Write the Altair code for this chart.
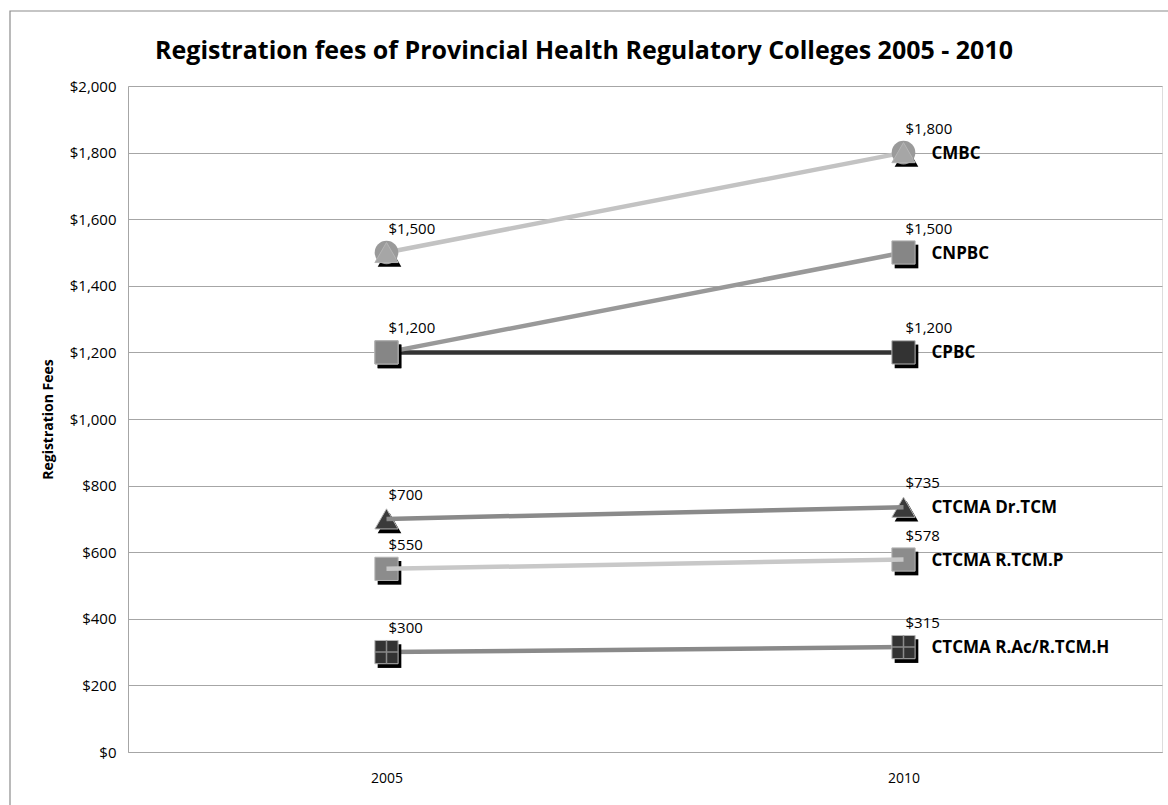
import altair as alt
import pandas as pd

years = ["2005", "2010"]
colleges = ["CMBC", "CNPBC", "CPBC", "CTCMA Dr.TCM", "CTCMA R.TCM.P", "CTCMA R.Ac/R.TCM.H"]
fees_2005 = [1500, 1200, 1200, 700, 550, 300]
fees_2010 = [1800, 1500, 1200, 735, 578, 315]
title_text = "Registration fees of Provincial Health Regulatory Colleges 2005 - 2010"

line_colors = ["#c3c3c3", "#999999", "#333333", "#8a8a8a", "#c8c8c8", "#8a8a8a"]
marker_fills = ["#a6a6a6", "#868686", "#333333", "#3a3a3a", "#8c8c8c", "#333333"]
marker_shapes = ["triangle-up", "square", "square", "triangle-up", "square", "square"]
lines_on_top = ["CTCMA Dr.TCM", "CTCMA R.TCM.P"]
# draw order of the markers (later ones on top)
draw_order = ["CPBC", "CMBC", "CNPBC", "CTCMA Dr.TCM", "CTCMA R.TCM.P", "CTCMA R.Ac/R.TCM.H"]

rows = []
for c in draw_order:
    i = colleges.index(c)
    rows.append({"year": years[0], "college": c, "fee": fees_2005[i]})
    rows.append({"year": years[1], "college": c, "fee": fees_2010[i]})
df = pd.DataFrame(rows)

FONT = "Open Sans"

x_enc = alt.X("year:N", scale=alt.Scale(type="point", padding=0.5, domain=years),
              axis=alt.Axis(title=None, labelAngle=0, ticks=False, grid=False,
                            domainColor="#a6a6a6", labelPadding=19, labelFontSize=14,
                            labelFont=FONT, labelColor="#000000"))
y_enc = alt.Y("fee:Q", scale=alt.Scale(domain=[0, 2000], nice=False),
              axis=alt.Axis(title="Registration Fees", values=list(range(0, 2001, 200)),
                            format="$,.0f", ticks=False, gridColor="#a6a6a6",
                            domainColor="#a6a6a6", labelPadding=12, labelFontSize=15,
                            labelFont=FONT, labelColor="#000000",
                            titleFont=FONT, titleFontSize=14, titleFontWeight="bold",
                            titleColor="#000000", titleX=-80, titleY=333,
                            titleAngle=-90, titleAlign="center", titleBaseline="middle"))

stroke_scale = alt.Scale(domain=colleges, range=line_colors)
fill_scale = alt.Scale(domain=colleges, range=marker_fills)
shape_scale = alt.Scale(domain=colleges, range=marker_shapes)

base = alt.Chart(df).encode(x=x_enc, y=y_enc)

one = pd.DataFrame({"t": [title_text]})

border = alt.Chart(one).mark_rect(
    fill=None, stroke="#8c8c8c", strokeWidth=1.2, clip=False
).encode(x=alt.value(-118), x2=alt.value(1100), y=alt.value(-75), y2=alt.value(800))

title = alt.Chart(one).mark_text(
    align="center", baseline="alphabetic", font=FONT, fontSize=25, fontWeight="bold",
    color="#000000"
).encode(x=alt.value(456), y=alt.value(-27), text="t:N")

lines_under = base.transform_filter(
    alt.FieldOneOfPredicate(field="college", oneOf=[c for c in colleges if c not in lines_on_top])
).mark_line(strokeWidth=4.5).encode(
    stroke=alt.Stroke("college:N", scale=stroke_scale, legend=None),
    detail="college:N")

lines_over = base.transform_filter(
    alt.FieldOneOfPredicate(field="college", oneOf=lines_on_top)
).mark_line(strokeWidth=4.5).encode(
    stroke=alt.Stroke("college:N", scale=stroke_scale, legend=None),
    detail="college:N")

shadow = base.mark_point(filled=True, size=560, xOffset=3, yOffset=4, opacity=1).encode(
    shape=alt.Shape("college:N", scale=shape_scale, legend=None),
    fill=alt.value("#000000"), strokeWidth=alt.value(0))

cmbc_circle = base.transform_filter(alt.datum.college == "CMBC").mark_point(
    shape="circle", filled=True, size=560, opacity=1
).encode(fill=alt.value("#9a9a9a"), strokeWidth=alt.value(0))

markers = base.mark_point(filled=True, size=540, opacity=1, strokeWidth=1).encode(
    shape=alt.Shape("college:N", scale=shape_scale, legend=None),
    fill=alt.Fill("college:N", scale=fill_scale, legend=None),
    stroke=alt.value("#b5b5b5"))

cross = base.transform_filter(alt.datum.college == "CTCMA R.Ac/R.TCM.H").mark_point(
    shape="M-1,0H1M0,-1V1", filled=False, size=540, opacity=1, strokeWidth=1.5
).encode(stroke=alt.value("#8a8a8a"))

value_labels = base.transform_filter(
    "!(datum.college == 'CPBC' && datum.year == '2005')"
).mark_text(align="left", baseline="middle", dx=2, dy=-24,
            fontSize=15, font=FONT, color="#000000").encode(
    text=alt.Text("fee:Q", format="$,.0f"))

name_labels = base.transform_filter(alt.datum.year == "2010").mark_text(
    align="left", baseline="middle", dx=28, dy=1, fontSize=17, fontWeight="bold",
    font=FONT, color="#000000").encode(text="college:N")

chart = alt.layer(
    border, title, lines_under, shadow, cmbc_circle, markers, cross, lines_over,
    value_labels, name_labels
).properties(
    width=1034, height=666,
    autosize=alt.AutoSizeParams(type="none"),
    padding={"left": 128, "top": 86, "right": 6, "bottom": 53},
).configure_view(stroke=None).configure(background="white")

chart.save("out.html", embed_options={"renderer": "svg", "actions": False})
